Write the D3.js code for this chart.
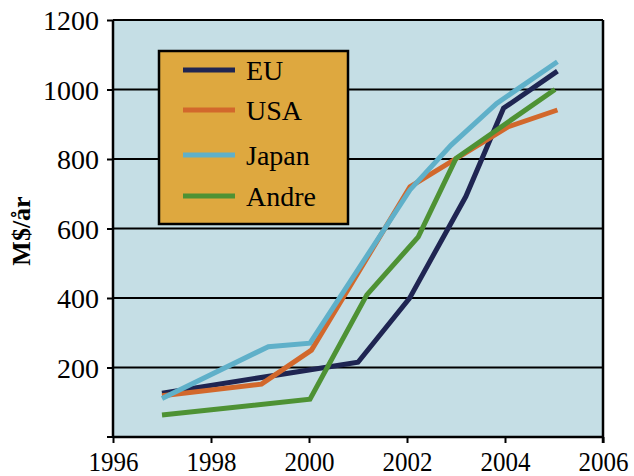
<!DOCTYPE html>
<html>
<head>
	<meta charset="UTF-8">
	<title>M$/år</title>
	<script src="https://cdn.jsdelivr.net/npm/d3@7"></script>
	<style>
		body { margin: 0; background: #fff; }
		svg text { font-family: "Liberation Serif", "Times New Roman", serif; fill: #000; }
	</style>
</head>
<body>
	<script type="text/javascript">
		// data (year, M$/år)
		var seriesNames = ["EU", "USA", "Japan", "Andre"];
		var seriesColors = ["#1f2552", "#d2682c", "#5fb0c9", "#4e9234"];
		var euYears = [1997, 2000, 2001, 2002.05, 2003.2, 2003.97, 2005.07];
		var euValues = [126, 193, 215, 399, 692, 946, 1053];
		var usaYears = [1997, 1999.03, 2000.05, 2002.06, 2004.07, 2005.07];
		var usaValues = [119, 152, 250, 720, 893, 941];
		var japanYears = [1997, 1999.17, 2000.02, 2002.06, 2002.9, 2003.83, 2005.07];
		var japanValues = [111, 260, 270, 711, 840, 960, 1080];
		var andreYears = [1997, 2000.02, 2001.18, 2002.23, 2003.0, 2005.02];
		var andreValues = [63, 109, 409, 576, 802, 1000];
		var xTicks = [1996, 1998, 2000, 2002, 2004, 2006];
		var yTicks = [200, 400, 600, 800, 1000, 1200];

		var allYears = [euYears, usaYears, japanYears, andreYears];
		var allValues = [euValues, usaValues, japanValues, andreValues];

		var svg = d3.select("body")
			.append("svg")
			.attr("width", 634)
			.attr("height", 476);

		var x = d3.scaleLinear().domain([1996, 2006]).range([113, 603]);
		var y = d3.scaleLinear().domain([0, 1200]).range([437, 20]);

		// plot background
		svg.append("rect")
			.attr("x", x(1996)).attr("y", y(1200))
			.attr("width", x(2006) - x(1996))
			.attr("height", y(0) - y(1200))
			.attr("fill", "#c5dee5");

		// gridlines
		svg.append("g")
			.selectAll("line")
			.data(yTicks)
			.join("line")
			.attr("x1", x(1996)).attr("x2", x(2006))
			.attr("y1", d => y(d)).attr("y2", d => y(d))
			.attr("stroke", "#000")
			.attr("stroke-width", 2);

		// y axis
		var yAxis = svg.append("g")
			.attr("transform", "translate(" + x(1996) + ",0)")
			.call(d3.axisLeft(y).tickValues(yTicks).tickSize(6).tickPadding(8).tickFormat(d3.format("d")))
			.attr("font-family", "Liberation Serif")
			.attr("font-size", 28);
		yAxis.select(".domain").attr("stroke-width", 2.5).attr("d", "M0," + y(0) + "V" + y(1200));
		yAxis.selectAll(".tick line").attr("stroke-width", 2);
		yAxis.selectAll(".tick text").attr("dy", "0.34em");
		yAxis.append("line").attr("x1", -6).attr("x2", 0).attr("y1", y(0)).attr("y2", y(0))
			.attr("stroke", "#000").attr("stroke-width", 2);

		// x axis
		var xAxis = svg.append("g")
			.attr("transform", "translate(0," + y(0) + ")")
			.call(d3.axisBottom(x).tickValues(xTicks).tickSize(6).tickPadding(8).tickFormat(d3.format("d")))
			.attr("font-family", "Liberation Serif")
			.attr("font-size", 28);
		xAxis.select(".domain").attr("stroke-width", 2.5).attr("d", "M" + x(1996) + ",0H" + x(2006));
		xAxis.selectAll(".tick line").attr("stroke-width", 2);
		xAxis.selectAll(".tick text").attr("dy", "0.72em")
			.attr("textLength", 50).attr("lengthAdjust", "spacingAndGlyphs");

		// right border
		svg.append("line")
			.attr("x1", x(2006)).attr("x2", x(2006))
			.attr("y1", y(1200)).attr("y2", y(0) + 6)
			.attr("stroke", "#000").attr("stroke-width", 2.5);

		// series lines
		var line = d3.line().x(d => x(d[0])).y(d => y(d[1]));
		seriesNames.forEach(function (name, i) {
			var pts = allYears[i].map((yr, j) => [yr, allValues[i][j]]);
			svg.append("path")
				.datum(pts)
				.attr("d", line)
				.attr("fill", "none")
				.attr("stroke", seriesColors[i])
				.attr("stroke-width", 5)
				.attr("stroke-linejoin", "miter");
		});

		// legend
		var legend = svg.append("g");
		legend.append("rect")
			.attr("x", 159).attr("y", 51)
			.attr("width", 189).attr("height", 173)
			.attr("fill", "#dea83f")
			.attr("stroke", "#000").attr("stroke-width", 2.5);
		var rowY = [70, 110, 155, 196];
		seriesNames.forEach(function (name, i) {
			legend.append("line")
				.attr("x1", 183).attr("x2", 235)
				.attr("y1", rowY[i]).attr("y2", rowY[i])
				.attr("stroke", seriesColors[i]).attr("stroke-width", 5);
			legend.append("text")
				.attr("x", 246).attr("y", rowY[i])
				.attr("dy", "0.35em")
				.attr("font-size", 28)
				.text(name);
		});

		// y title
		svg.append("text")
			.attr("transform", "translate(30,231) rotate(-90)")
			.attr("text-anchor", "middle")
			.attr("font-size", 26)
			.attr("font-weight", "bold")
			.text("M$/år");
	</script>
</body>
</html>
